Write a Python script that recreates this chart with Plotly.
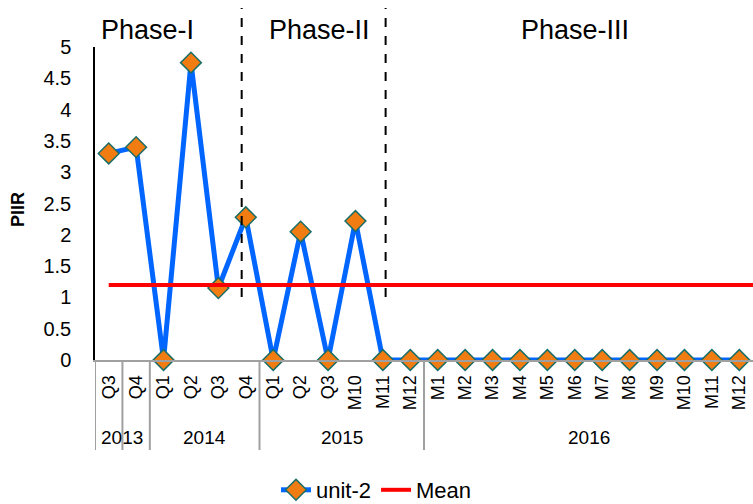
import plotly.graph_objects as go

categories = ["Q3", "Q4", "Q1", "Q2", "Q3", "Q4", "Q1", "Q2", "Q3", "M10", "M11", "M12",
              "M1", "M2", "M3", "M4", "M5", "M6", "M7", "M8", "M9", "M10", "M11", "M12"]
years = ["2013", "2014", "2015", "2016"]
year_counts = [2, 4, 6, 12]
unit2 = [3.3, 3.4, 0, 4.75, 1.15, 2.28, 0, 2.05, 0, 2.22, 0, 0,
         0, 0, 0, 0, 0, 0, 0, 0, 0, 0, 0, 0]
mean_value = 1.2
phases = ["Phase-I", "Phase-II", "Phase-III"]
phase_bounds = [4.85, 10.1]
phase_label_x = [1.4, 7.7, 17.0]

n = len(categories)
xs = list(range(n))
BLUE = "#0066FF"
ORANGE = "#F07C12"
TEAL = "#1A6E68"
RED = "#FF0000"
FONT = "Liberation Sans, Arial, sans-serif"

fig = go.Figure()
fig.add_trace(go.Scatter(
    x=xs, y=unit2, mode="lines+markers", name="unit-2",
    line=dict(color=BLUE, width=5),
    marker=dict(symbol="diamond", size=16, color=ORANGE, line=dict(color=TEAL, width=1.5)),
    cliponaxis=False,
))
fig.add_trace(go.Scatter(
    x=[0, n - 0.5], y=[mean_value, mean_value], mode="lines", name="Mean",
    line=dict(color=RED, width=4), cliponaxis=False,
))

plot_h = 313.0
plot_w = 658.0
shapes = []
for b in phase_bounds:
    shapes.append(dict(type="line", xref="x", yref="paper", x0=b, x1=b,
                       y0=(360 - 297) / plot_h, y1=(360 - 8) / plot_h,
                       line=dict(color="black", width=2, dash="dash")))
div_bottom = -(450 - 360) / plot_h
bounds = [-0.5, 0.5]
acc = 0
for c in year_counts:
    acc += c
    if acc < n:
        bounds.append(acc - 0.5)
for b in bounds:
    shapes.append(dict(type="line", xref="x", yref="paper", x0=b, x1=b,
                       y0=0, y1=div_bottom, line=dict(color="#A0A0A0", width=2)))

annotations = []
start = 0
for yr, c in zip(years, year_counts):
    annotations.append(dict(x=start + (c - 1) / 2, y=-(438 - 360) / plot_h, xref="x", yref="paper",
                            xanchor="center", yanchor="middle",
                            text=yr, showarrow=False, font=dict(size=19, color="black", family=FONT)))
    start += c
for p, cx in zip(phases, phase_label_x):
    annotations.append(dict(x=cx, y=(360 - 30) / plot_h, xref="x", yref="paper", text=p,
                            xanchor="center", yanchor="middle",
                            showarrow=False, font=dict(size=27, color="black", family=FONT)))
annotations.append(dict(x=(18 - 95) / plot_w, y=(360 - 210) / plot_h, xref="paper", yref="paper",
                        xanchor="center", yanchor="middle",
                        text="<b>PIIR</b>", textangle=-90, showarrow=False,
                        font=dict(size=18, color="black", family=FONT)))

fig.update_layout(
    width=753, height=504,
    margin=dict(l=95, r=0, t=47, b=144),
    plot_bgcolor="white", paper_bgcolor="white",
    font=dict(family=FONT, color="black"),
    showlegend=True,
    legend=dict(orientation="h", x=0.5, xref="container", xanchor="center",
                y=(504 - 490) / 504, yref="container", yanchor="middle",
                font=dict(size=22, color="black", family=FONT)),
    shapes=shapes, annotations=annotations,
    xaxis=dict(range=[-0.5, n - 0.5], tickmode="array", tickvals=xs, ticktext=categories,
               tickangle=-90, tickfont=dict(size=18, color="black"), showgrid=False,
               showline=True, linecolor="#A0A0A0", linewidth=2, ticks="", zeroline=False,
               ticklabelstandoff=6, automargin=False),
    yaxis=dict(range=[0, 5], dtick=0.5, tickfont=dict(size=20, color="black"), showgrid=False,
               showline=True, linecolor="black", linewidth=1.5, ticks="", zeroline=False,
               ticklabelstandoff=18, automargin=False),
)

fig.write_html("out.html", config={"displayModeBar": False},
               post_script="document.body.style.margin='0';")
